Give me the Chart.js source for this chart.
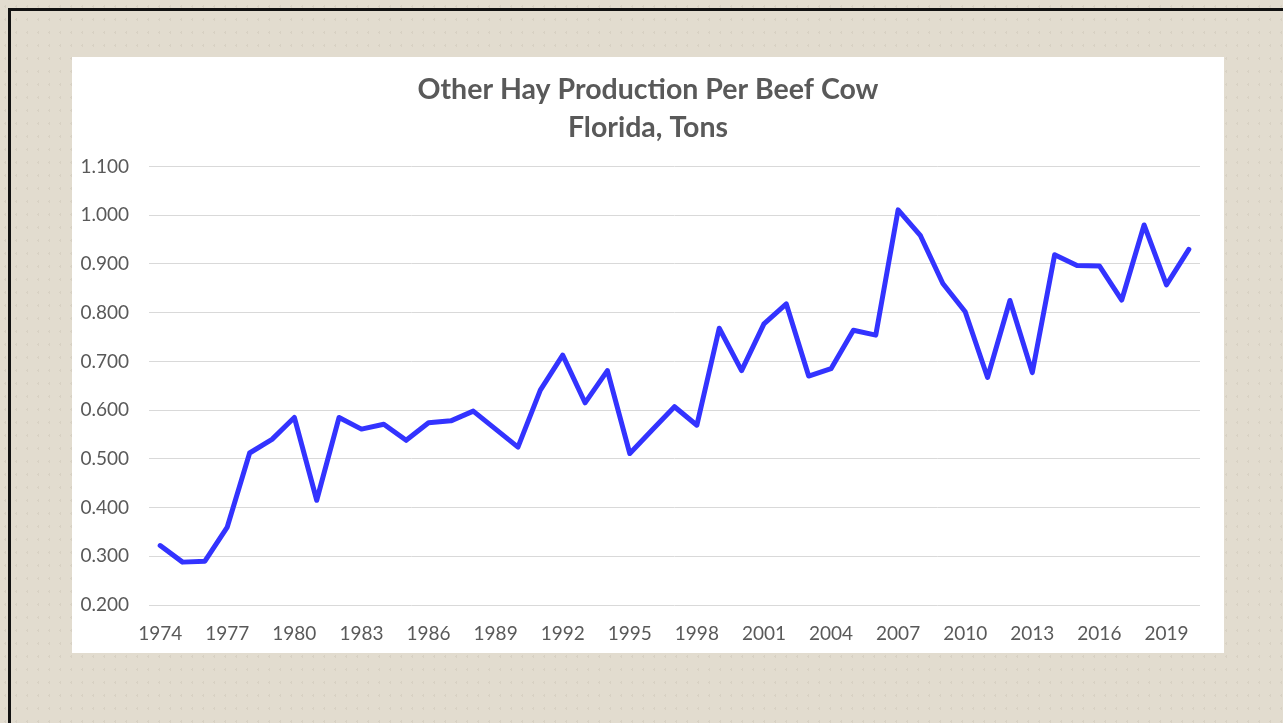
<!DOCTYPE html>
<html>
<head>
<meta charset="utf-8">
<script src="https://cdn.jsdelivr.net/npm/chart.js@4/dist/chart.umd.min.js"></script>
<style>
    html, body { margin: 0; padding: 0; }
    body {
        width: 1283px; height: 723px; overflow: hidden; position: relative;
        background-color: #e2dccf;
        background-image: radial-gradient(rgba(170,160,140,0.18) 1px, transparent 1px);
        background-size: 11px 13px;
    }
    .edge-top { position: absolute; left: 8px; top: 8px; width: 1275px; height: 3px; background: #111; }
    .edge-left { position: absolute; left: 8px; top: 8px; width: 3px; height: 715px; background: #111; }
    #panel { position: absolute; left: 72px; top: 57px; width: 1152px; height: 596px; background: #fff; }
</style>
</head>
<body>
<div class="edge-top"></div>
<div class="edge-left"></div>
<div id="panel"><canvas id="hayChart" width="1152" height="596"></canvas></div>
<script>
const years = [];
for (let y = 1974; y <= 2020; y++) years.push(String(y));

const hayPerCow = [
    0.322, 0.288, 0.290, 0.360, 0.512, 0.540, 0.585, 0.415, 0.585, 0.561,
    0.571, 0.538, 0.574, 0.578, 0.598, 0.561, 0.524, 0.641, 0.713, 0.615,
    0.681, 0.511, 0.559, 0.607, 0.569, 0.768, 0.681, 0.777, 0.818, 0.670,
    0.685, 0.764, 0.754, 1.011, 0.958, 0.860, 0.802, 0.667, 0.825, 0.677,
    0.919, 0.897, 0.896, 0.826, 0.980, 0.857, 0.930
];

const titleLines = ['Other Hay Production Per Beef Cow', 'Florida, Tons'];
const yMin = 0.2, yMax = 1.1, yStep = 0.1;

const textGray = '#595959';

document.addEventListener('DOMContentLoaded', () => {
    const ctx = document.getElementById('hayChart').getContext('2d');
    new Chart(ctx, {
        type: 'line',
        data: {
            labels: years,
            datasets: [{
                label: 'Tons per beef cow',
                data: hayPerCow,
                borderColor: '#3333ff',
                borderWidth: 5,
                pointRadius: 0,
                tension: 0,
                borderJoinStyle: 'round',
                borderCapStyle: 'round',
                fill: false
            }]
        },
        options: {
            responsive: false,
            animation: false,
            layout: { padding: 0 },
            plugins: {
                legend: { display: false },
                tooltip: { enabled: false },
                title: {
                    display: true,
                    text: titleLines,
                    color: textGray,
                    font: { family: 'Lato', size: 28.5, weight: 'bold', lineHeight: 1.36 },
                    padding: { top: 13, bottom: 19 }
                }
            },
            scales: {
                x: {
                    offset: true,
                    grid: { display: false, drawTicks: false },
                    border: { display: false },
                    ticks: {
                        autoSkip: false,
                        maxRotation: 0,
                        padding: 17,
                        color: textGray,
                        font: { family: 'Lato', size: 19 },
                        callback: function (value, index) {
                            return index % 3 === 0 ? this.getLabelForValue(value) : '';
                        }
                    },
                    afterFit: scale => { scale.height = 48; }
                },
                y: {
                    min: yMin,
                    max: yMax,
                    grid: { color: '#d9d9d9', lineWidth: 1, drawTicks: false },
                    border: { display: false },
                    ticks: {
                        stepSize: yStep,
                        padding: 20,
                        color: textGray,
                        font: { family: 'Lato', size: 19 },
                        callback: v => v.toFixed(3)
                    },
                    afterFit: scale => { scale.width = 77; }
                },
                // empty right-hand gutter so the title centres on the whole panel
                yRight: {
                    position: 'right',
                    min: yMin,
                    max: yMax,
                    grid: { display: false, drawTicks: false },
                    border: { display: false },
                    ticks: { display: false },
                    afterFit: scale => { scale.width = 24; }
                }
            }
        }
    });
});
</script>
</body>
</html>
